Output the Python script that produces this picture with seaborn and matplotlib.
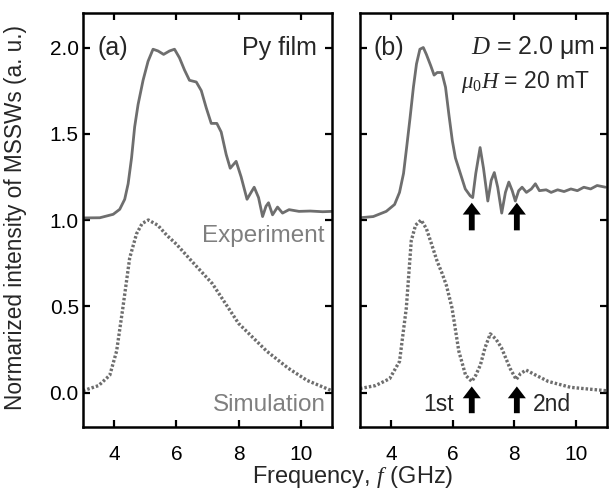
import numpy as np
import pandas as pd
import matplotlib
matplotlib.use("Agg")
import matplotlib.pyplot as plt
import seaborn as sns

# ---------------- data ----------------
film_exp_f = [3.0, 3.54, 3.97, 4.18, 4.34, 4.45, 4.56, 4.66, 4.77, 4.93, 5.09, 5.25, 5.41,
              5.59, 5.78, 5.94, 6.1, 6.26, 6.42, 6.64, 6.8, 6.96, 7.12, 7.3, 7.44,
              7.6, 7.73, 7.92, 8.08, 8.27, 8.4, 8.5, 8.64, 8.77, 8.88, 8.96, 9.09,
              9.25, 9.41, 9.62, 9.94, 10.3, 10.7, 11.0]
film_exp_i = [1.012, 1.013, 1.033, 1.062, 1.12, 1.21, 1.36, 1.54, 1.67, 1.81, 1.92, 1.99, 1.98,
              1.96, 1.98, 1.99, 1.94, 1.87, 1.81, 1.80, 1.75, 1.65, 1.56, 1.56, 1.51,
              1.38, 1.30, 1.34, 1.25, 1.12, 1.16, 1.19, 1.13, 1.02, 1.08, 1.10, 1.03,
              1.075, 1.04, 1.06, 1.05, 1.052, 1.048, 1.05]
film_sim_f = [3.0, 3.5, 3.86, 4.08, 4.28, 4.5, 4.72, 4.9, 5.1, 5.4, 5.7, 6.0, 6.5,
              7.16, 8.0, 8.9, 9.6, 10.2, 10.6, 11.0]
film_sim_i = [0.01, 0.04, 0.10, 0.24, 0.49, 0.78, 0.92, 0.98, 1.0, 0.97, 0.91, 0.86, 0.76,
              0.63, 0.40, 0.24, 0.14, 0.07, 0.04, 0.01]

wire_exp_f = [3.0, 3.43, 3.85, 4.12, 4.28, 4.41, 4.51, 4.62, 4.73, 4.83, 4.94, 5.05, 5.15,
              5.29, 5.4, 5.5, 5.65, 5.77, 5.88, 5.99, 6.09, 6.25, 6.41, 6.57, 6.65,
              6.75, 6.89, 7.0, 7.14, 7.25, 7.35, 7.46, 7.59, 7.71, 7.82, 7.93, 8.03,
              8.14, 8.25, 8.39, 8.55, 8.68, 8.81, 9.03, 9.19, 9.4, 9.61, 9.83, 10.04,
              10.25, 10.47, 10.68, 10.95]
wire_exp_i = [1.013, 1.02, 1.05, 1.09, 1.16, 1.27, 1.42, 1.59, 1.77, 1.905, 1.99, 2.0, 1.96,
              1.895, 1.84, 1.855, 1.855, 1.77, 1.61, 1.46, 1.36, 1.27, 1.18, 1.14, 1.13,
              1.27, 1.42, 1.30, 1.11, 1.23, 1.275, 1.19, 1.04, 1.16, 1.22, 1.17, 1.11,
              1.17, 1.19, 1.16, 1.18, 1.21, 1.17, 1.175, 1.16, 1.175, 1.165, 1.18, 1.17,
              1.19, 1.18, 1.20, 1.19]
wire_sim_f = [3.0, 3.5, 3.96, 4.28, 4.5, 4.66, 4.8, 4.98, 5.15, 5.3, 5.5, 5.66, 5.8,
              5.98, 6.2, 6.42, 6.62, 6.75, 6.9, 7.05, 7.22, 7.4, 7.58, 7.86, 8.06,
              8.2, 8.38, 8.7, 9.1, 9.5, 9.82, 10.4, 11.0]
wire_sim_i = [0.023, 0.04, 0.08, 0.18, 0.49, 0.88, 0.97, 1.0, 0.95, 0.87, 0.76, 0.69, 0.62,
              0.49, 0.24, 0.10, 0.064, 0.10, 0.16, 0.26, 0.34, 0.31, 0.26, 0.14, 0.075,
              0.11, 0.13, 0.10, 0.064, 0.045, 0.03, 0.02, 0.01]

xticks = [4, 6, 8, 10]
yticks = [0.0, 0.5, 1.0, 1.5, 2.0]
arrow_f = [6.62, 8.08]
arrow_top = (0.94, 1.10)
arrow_bot = (-0.12, 0.035)

# ---------------- style ----------------
sns.set_theme(style="ticks")
plt.rcParams['font.family'] = ['Liberation Sans', 'DejaVu Sans']
plt.rcParams['mathtext.fontset'] = 'custom'
plt.rcParams['mathtext.it'] = 'Liberation Serif:italic'
plt.rcParams['mathtext.rm'] = 'Liberation Serif'

line_col = '#6e6e6e'
text_gray = '#7f7f7f'

fig = plt.figure(figsize=(6.09, 4.97), dpi=100)
axL = fig.add_axes([83/609, 1-427/497, 249/609, 414/497])
axR = fig.add_axes([360/609, 1-427/497, 247/609, 414/497])

def draw(ax, ef, ei, sf, si):
    sns.lineplot(x=ef, y=ei, ax=ax, color=line_col, lw=2.0, sort=False)
    sns.lineplot(x=sf, y=si, ax=ax, color=line_col, lw=2.4, sort=False,
                 linestyle=(0, (0.75, 0.6)))
    ax.set_xlim(3, 11)
    ax.set_ylim(-0.2, 2.2)
    ax.set_xticks(xticks)
    ax.set_yticks(yticks)
    ax.tick_params(direction='in', length=5, width=1.6, top=True, right=True,
                   labelsize=15, colors='black')
    ax.tick_params(axis='x', pad=13)
    ax.tick_params(axis='y', pad=3)
    for s in ax.spines.values():
        s.set_linewidth(1.8)
        s.set_color('black')
    ax.set_xlabel('')
    ax.set_ylabel('')

draw(axL, film_exp_f, film_exp_i, film_sim_f, film_sim_i)
draw(axR, wire_exp_f, wire_exp_i, wire_sim_f, wire_sim_i)
axL.set_yticklabels([f"{v:.1f}" for v in yticks])
axR.set_yticklabels([])

axL.text(3.48, 2.0, '(a)', fontsize=18, ha='left', va='center')
axL.text(10.5, 2.0, 'Py film', fontsize=18, ha='right', va='center')
axL.text(10.75, 0.91, 'Experiment', fontsize=17.5, ha='right', va='center', color=text_gray)
axL.text(10.8, -0.07, 'Simulation', fontsize=17.5, ha='right', va='center', color=text_gray)

axR.text(3.45, 2.0, '(b)', fontsize=18, ha='left', va='center')
axR.text(10.62, 2.0, r'$D$ = 2.0 μm', fontsize=18, ha='right', va='center')
axR.text(10.46, 1.80, r'$\mu_0H$ = 20 mT', fontsize=16.5, ha='right', va='center')
axR.text(6.04, -0.07, '1st', fontsize=16.5, ha='right', va='center')
axR.text(8.6, -0.07, '2nd', fontsize=16.5, ha='left', va='center')

astyle = "simple,head_width=1.3,head_length=0.85,tail_width=0.42"
for xf in arrow_f:
    for base, tip in (arrow_top, arrow_bot):
        axR.annotate('', xy=(xf, tip), xytext=(xf, base),
                     arrowprops=dict(arrowstyle=astyle, color='black', lw=0,
                                     shrinkA=0, shrinkB=0, mutation_scale=10))

fig.text(353/609, 1-477/497, r'Frequency, $f$ (GHz)', fontsize=17, ha='center', va='center')
fig.text(16/609, 1-218/497, 'Normarized intensity of MSSWs (a. u.)', fontsize=16.3,
         rotation=90, ha='center', va='center')

fig.savefig('out.png', dpi=100)
